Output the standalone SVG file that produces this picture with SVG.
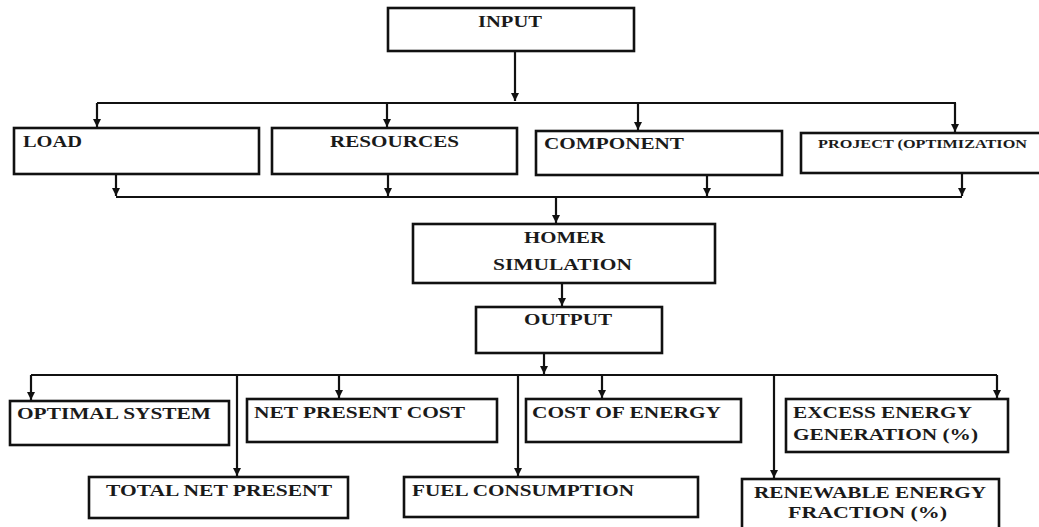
<svg xmlns="http://www.w3.org/2000/svg" width="1039" height="527" viewBox="0 0 1039 527">
<style>
.box{fill:#fff;stroke:#111;stroke-width:2.6}
.t{font-family:"Liberation Serif","Times New Roman",serif;font-weight:bold;font-size:17px;fill:#1a1a1a}
.s{font-size:12.5px}
.c{fill:none;stroke:#111;stroke-width:2.2}
</style>
<defs>
<marker id="ah" markerUnits="userSpaceOnUse" markerWidth="8" markerHeight="8" refX="8" refY="4" orient="auto">
<path d="M0,0 L8,4 L0,8 z" fill="#111"/>
</marker>
</defs>
<rect width="1039" height="527" fill="#fff"/>
<g id="connectors">
<path class="c" d="M515,51 V101" marker-end="url(#ah)"/>
<path class="c" d="M97,103 H956"/>
<path class="c" d="M97,103 V127" marker-end="url(#ah)"/>
<path class="c" d="M387,103 V127" marker-end="url(#ah)"/>
<path class="c" d="M638,103 V130" marker-end="url(#ah)"/>
<path class="c" d="M955,103 V132" marker-end="url(#ah)"/>
<path class="c" d="M116,174 V196" marker-end="url(#ah)"/>
<path class="c" d="M388,174 V196" marker-end="url(#ah)"/>
<path class="c" d="M707,175 V196" marker-end="url(#ah)"/>
<path class="c" d="M962,173 V196" marker-end="url(#ah)"/>
<path class="c" d="M116,197 H962"/>
<path class="c" d="M556,197 V223" marker-end="url(#ah)"/>
<path class="c" d="M562,283 V306" marker-end="url(#ah)"/>
<path class="c" d="M544,353 V374" marker-end="url(#ah)"/>
<path class="c" d="M31,375 H997"/>
<path class="c" d="M31,375 V400" marker-end="url(#ah)"/>
<path class="c" d="M237,375 V476" marker-end="url(#ah)"/>
<path class="c" d="M339,375 V398" marker-end="url(#ah)"/>
<path class="c" d="M518,375 V476" marker-end="url(#ah)"/>
<path class="c" d="M602,375 V398" marker-end="url(#ah)"/>
<path class="c" d="M774,375 V478" marker-end="url(#ah)"/>
<path class="c" d="M997,375 V398" marker-end="url(#ah)"/>
</g>
<g id="input"><rect class="box" x="388" y="8" width="246" height="43"/><text class="t" x="478" y="27" textLength="64" lengthAdjust="spacingAndGlyphs">INPUT</text></g>
<g id="load"><rect class="box" x="14" y="128" width="245" height="46"/><text class="t" x="23" y="147" textLength="59" lengthAdjust="spacingAndGlyphs">LOAD</text></g>
<g id="resources"><rect class="box" x="272" y="128" width="245" height="46"/><text class="t" x="330" y="147" textLength="129" lengthAdjust="spacingAndGlyphs">RESOURCES</text></g>
<g id="component"><rect class="box" x="536" y="131" width="246" height="44"/><text class="t" x="544" y="149" textLength="140" lengthAdjust="spacingAndGlyphs">COMPONENT</text></g>
<g id="project"><rect class="box" x="801" y="133" width="250" height="40"/><text class="t s" x="818" y="148" textLength="209" lengthAdjust="spacingAndGlyphs">PROJECT (OPTIMIZATION</text></g>
<g id="homer"><rect class="box" x="413" y="224" width="302" height="59"/><text class="t" x="524" y="243" textLength="81" lengthAdjust="spacingAndGlyphs">HOMER</text><text class="t" x="493" y="270" textLength="139" lengthAdjust="spacingAndGlyphs">SIMULATION</text></g>
<g id="output"><rect class="box" x="476" y="307" width="186" height="46"/><text class="t" x="524" y="325" textLength="88" lengthAdjust="spacingAndGlyphs">OUTPUT</text></g>
<g id="optimal"><rect class="box" x="10" y="401" width="219" height="44"/><text class="t" x="17" y="419" textLength="194" lengthAdjust="spacingAndGlyphs">OPTIMAL SYSTEM</text></g>
<g id="npc"><rect class="box" x="247" y="399" width="250" height="43"/><text class="t" x="254" y="418" textLength="211" lengthAdjust="spacingAndGlyphs">NET PRESENT COST</text></g>
<g id="coe"><rect class="box" x="526" y="399" width="215" height="43"/><text class="t" x="532" y="418" textLength="189" lengthAdjust="spacingAndGlyphs">COST OF ENERGY</text></g>
<g id="excess"><rect class="box" x="786" y="399" width="222" height="53"/><text class="t" x="793" y="418" textLength="179" lengthAdjust="spacingAndGlyphs">EXCESS ENERGY</text><text class="t" x="793" y="440" textLength="185" lengthAdjust="spacingAndGlyphs">GENERATION (%)</text></g>
<g id="tnp"><rect class="box" x="89" y="477" width="259" height="41"/><text class="t" x="106" y="496" textLength="226" lengthAdjust="spacingAndGlyphs">TOTAL NET PRESENT</text></g>
<g id="fuel"><rect class="box" x="404" y="477" width="294" height="40"/><text class="t" x="412" y="496" textLength="222" lengthAdjust="spacingAndGlyphs">FUEL CONSUMPTION</text></g>
<g id="renewable"><rect class="box" x="742" y="479" width="257" height="60"/><text class="t" x="754" y="498" textLength="232" lengthAdjust="spacingAndGlyphs">RENEWABLE ENERGY</text><text class="t" x="788" y="518" textLength="159" lengthAdjust="spacingAndGlyphs">FRACTION (%)</text></g>
</svg>
